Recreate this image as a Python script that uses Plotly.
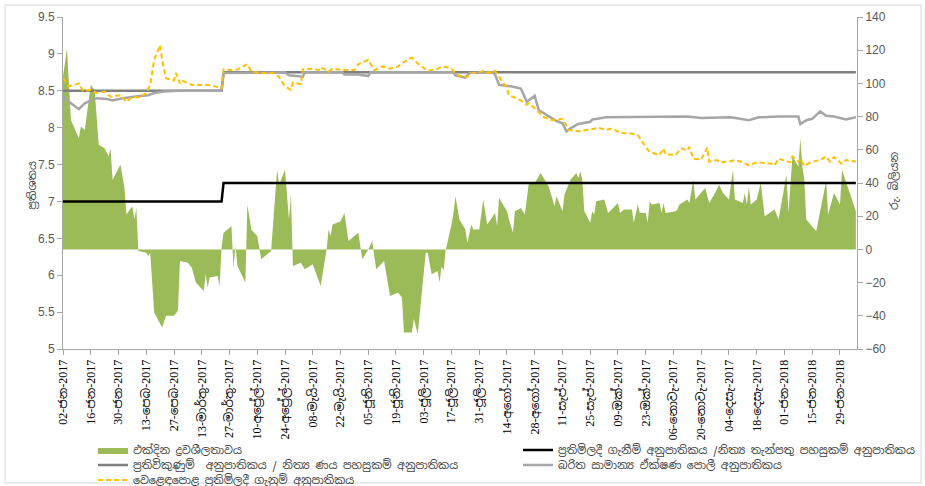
import plotly.graph_objects as go
import pandas as pd

# ---- overnight liquidity (Rs. billion, right axis) ----
liq_dates = [
    "2017-01-02", "2017-01-03", "2017-01-04", "2017-01-06", "2017-01-10", "2017-01-11", "2017-01-13",
    "2017-01-16", "2017-01-18", "2017-01-20", "2017-01-23", "2017-01-25", "2017-01-26", "2017-01-27",
    "2017-01-31", "2017-02-02", "2017-02-03", "2017-02-06", "2017-02-07", "2017-02-08", "2017-02-09",
    "2017-02-13", "2017-02-14", "2017-02-15", "2017-02-17", "2017-02-21", "2017-02-23", "2017-02-27",
    "2017-03-01", "2017-03-02", "2017-03-06", "2017-03-08", "2017-03-09", "2017-03-10", "2017-03-14",
    "2017-03-15", "2017-03-16", "2017-03-17", "2017-03-21", "2017-03-22", "2017-03-23", "2017-03-24",
    "2017-03-28", "2017-03-29", "2017-03-30", "2017-03-31", "2017-04-04", "2017-04-05", "2017-04-07",
    "2017-04-10", "2017-04-12", "2017-04-17", "2017-04-20", "2017-04-21", "2017-04-24", "2017-04-26",
    "2017-04-27", "2017-04-28", "2017-05-02", "2017-05-04", "2017-05-08", "2017-05-12", "2017-05-15",
    "2017-05-16", "2017-05-17", "2017-05-18", "2017-05-22", "2017-05-24", "2017-05-26", "2017-05-31",
    "2017-06-02", "2017-06-05", "2017-06-07", "2017-06-09", "2017-06-13", "2017-06-16", "2017-06-20",
    "2017-06-22", "2017-06-23", "2017-06-27", "2017-06-28", "2017-06-30", "2017-07-04", "2017-07-05",
    "2017-07-07", "2017-07-10", "2017-07-11", "2017-07-12", "2017-07-13", "2017-07-14", "2017-07-17",
    "2017-07-18", "2017-07-19", "2017-07-21", "2017-07-24", "2017-07-25", "2017-07-27", "2017-07-28",
    "2017-07-31", "2017-08-02", "2017-08-04", "2017-08-08", "2017-08-09", "2017-08-10", "2017-08-14",
    "2017-08-15", "2017-08-17", "2017-08-18", "2017-08-21", "2017-08-23", "2017-08-25", "2017-08-28",
    "2017-08-31", "2017-09-04", "2017-09-07", "2017-09-08", "2017-09-11", "2017-09-12", "2017-09-13",
    "2017-09-15", "2017-09-18", "2017-09-19", "2017-09-20", "2017-09-21", "2017-09-22", "2017-09-25",
    "2017-09-26", "2017-09-27", "2017-09-28", "2017-10-02", "2017-10-04", "2017-10-09", "2017-10-10",
    "2017-10-12", "2017-10-16", "2017-10-17", "2017-10-19", "2017-10-20", "2017-10-23", "2017-10-24",
    "2017-10-25", "2017-10-26", "2017-10-30", "2017-10-31", "2017-11-01", "2017-11-02", "2017-11-07",
    "2017-11-08", "2017-11-09", "2017-11-13", "2017-11-14", "2017-11-16", "2017-11-17", "2017-11-20",
    "2017-11-22", "2017-11-24", "2017-11-27", "2017-11-29", "2017-12-01", "2017-12-04", "2017-12-06",
    "2017-12-07", "2017-12-11", "2017-12-12", "2017-12-13", "2017-12-14", "2017-12-15", "2017-12-18",
    "2017-12-20", "2017-12-22", "2017-12-27", "2017-12-29", "2018-01-02", "2018-01-03", "2018-01-05",
    "2018-01-08", "2018-01-09", "2018-01-10", "2018-01-11", "2018-01-12", "2018-01-17", "2018-01-22",
    "2018-01-23", "2018-01-26", "2018-01-29", "2018-01-30", "2018-02-01", "2018-02-06",
]
liq_values = [
    104, 112, 121, 78, 67, 74, 72,
    99, 96, 63, 61, 56, 61, 42,
    51, 37, 21, 26, 18, 25, -1,
    -2, -4, -2, -38, -47, -40, -40,
    -37, -7, -8, -11, -16, -20, -25,
    -15, -23, -17, -16, -22, 1, 10,
    14, -11, 2, -10, -20, 27, 12,
    8, -6, -1, 48, 39, 48, 18,
    33, -10, -8, -12, -9, -22, 0,
    12, 8, 15, 17, 22, 5, 10,
    -6, 0, 5, -12, -7, -28, -26,
    -29, -50, -50, -42, -51, -2, -2,
    -15, -13, -20, -10, -13, -1, 15,
    22, 32, 18, 12, 4, 15, 12,
    12, 30, 15, 22, 14, 31, 23,
    18, 10, 23, 25, 21, 40, 40,
    46, 38, 26, 32, 23, 33, 36,
    42, 46, 43, 47, 42, 23, 16,
    23, 21, 29, 30, 22, 28, 22,
    24, 24, 16, 27, 22, 22, 16,
    29, 27, 28, 22, 28, 22, 23,
    24, 27, 30, 28, 42, 30, 34,
    37, 28, 34, 39, 34, 30, 48,
    30, 28, 34, 27, 38, 27, 30,
    40, 20, 24, 18, 45, 22, 56,
    50, 67, 50, 42, 18, 11, 41,
    21, 34, 27, 48, 41, 23,
]

# ---- policy corridor (per cent, left axis) ----
policy_dates = ["2017-01-02", "2017-03-23", "2017-03-24", "2018-02-06"]
sdfr_values = [7.00, 7.00, 7.25, 7.25]
slfr_values = [8.50, 8.50, 8.75, 8.75]

# ---- weighted average call money rate ----
awcmr_dates = [
    "2017-01-02", "2017-01-05", "2017-01-10", "2017-01-13", "2017-01-16", "2017-01-19", "2017-01-24",
    "2017-01-27", "2017-02-01", "2017-02-06", "2017-02-10", "2017-02-14", "2017-02-17", "2017-02-22",
    "2017-03-01", "2017-03-23", "2017-03-24", "2017-04-24", "2017-04-26", "2017-05-03", "2017-05-04",
    "2017-05-23", "2017-05-24", "2017-05-31", "2017-06-05", "2017-06-06", "2017-07-18", "2017-07-19",
    "2017-07-24", "2017-07-26", "2017-08-07", "2017-08-08", "2017-08-10", "2017-08-16", "2017-08-21",
    "2017-08-24", "2017-08-28", "2017-08-30", "2017-09-04", "2017-09-08", "2017-09-11", "2017-09-13",
    "2017-09-15", "2017-09-19", "2017-09-25", "2017-09-26", "2017-10-03", "2017-10-13", "2017-10-31",
    "2017-11-13", "2017-11-20", "2017-11-29", "2017-12-05", "2017-12-14", "2017-12-19", "2017-12-29",
    "2018-01-08", "2018-01-09", "2018-01-12", "2018-01-15", "2018-01-19", "2018-01-22", "2018-01-26",
    "2018-02-01", "2018-02-06",
]
awcmr_values = [
    8.42, 8.35, 8.25, 8.33, 8.37, 8.40, 8.39,
    8.37, 8.40, 8.42, 8.43, 8.44, 8.47, 8.49,
    8.50, 8.50, 8.74, 8.75, 8.71, 8.69, 8.75,
    8.75, 8.72, 8.72, 8.70, 8.75, 8.75, 8.71,
    8.68, 8.74, 8.75, 8.72, 8.58, 8.56, 8.53,
    8.35, 8.43, 8.24, 8.15, 8.09, 8.06, 7.95,
    7.99, 8.05, 8.08, 8.11, 8.14, 8.14, 8.14,
    8.15, 8.13, 8.13, 8.14, 8.10, 8.14, 8.15,
    8.15, 8.05, 8.10, 8.12, 8.22, 8.16, 8.15,
    8.11, 8.14,
]

# ---- market repo rate ----
repo_dates = [
    "2017-01-02", "2017-01-05", "2017-01-10", "2017-01-12", "2017-01-16", "2017-01-19", "2017-01-23",
    "2017-01-26", "2017-01-31", "2017-02-03", "2017-02-06", "2017-02-09", "2017-02-13", "2017-02-15",
    "2017-02-17", "2017-02-20", "2017-02-21", "2017-02-23", "2017-02-27", "2017-02-28", "2017-03-02",
    "2017-03-03", "2017-03-08", "2017-03-10", "2017-03-16", "2017-03-20", "2017-03-23", "2017-03-24",
    "2017-03-28", "2017-03-31", "2017-04-03", "2017-04-05", "2017-04-07", "2017-04-12", "2017-04-18",
    "2017-04-21", "2017-04-24", "2017-04-27", "2017-04-28", "2017-05-02", "2017-05-03", "2017-05-08",
    "2017-05-11", "2017-05-12", "2017-05-16", "2017-05-18", "2017-05-23", "2017-05-29", "2017-05-31",
    "2017-06-05", "2017-06-08", "2017-06-12", "2017-06-16", "2017-06-20", "2017-06-23", "2017-06-27",
    "2017-06-30", "2017-07-05", "2017-07-10", "2017-07-13", "2017-07-17", "2017-07-19", "2017-07-21",
    "2017-07-25", "2017-07-27", "2017-07-31", "2017-08-02", "2017-08-04", "2017-08-08", "2017-08-10",
    "2017-08-14", "2017-08-15", "2017-08-18", "2017-08-21", "2017-08-24", "2017-08-25", "2017-08-29",
    "2017-09-01", "2017-09-06", "2017-09-11", "2017-09-12", "2017-09-14", "2017-09-19", "2017-09-22",
    "2017-09-26", "2017-09-29", "2017-10-03", "2017-10-06", "2017-10-10", "2017-10-16", "2017-10-19",
    "2017-10-23", "2017-10-25", "2017-10-30", "2017-11-01", "2017-11-02", "2017-11-07", "2017-11-10",
    "2017-11-13", "2017-11-14", "2017-11-16", "2017-11-20", "2017-11-23", "2017-11-24", "2017-11-28",
    "2017-11-29", "2017-12-04", "2017-12-07", "2017-12-11", "2017-12-14", "2017-12-18", "2017-12-26",
    "2017-12-27", "2017-12-29", "2018-01-02", "2018-01-04", "2018-01-05", "2018-01-08", "2018-01-09",
    "2018-01-11", "2018-01-15", "2018-01-19", "2018-01-22", "2018-01-24", "2018-01-26", "2018-01-30",
    "2018-02-01", "2018-02-06",
]
repo_values = [
    8.67, 8.56, 8.60, 8.50, 8.51, 8.47, 8.49,
    8.42, 8.44, 8.35, 8.42, 8.41, 8.47, 8.58,
    8.92, 9.12, 8.92, 8.67, 8.64, 8.74, 8.60,
    8.64, 8.58, 8.58, 8.58, 8.56, 8.53, 8.79,
    8.78, 8.79, 8.83, 8.86, 8.76, 8.74, 8.74,
    8.69, 8.56, 8.51, 8.61, 8.59, 8.79, 8.80,
    8.78, 8.82, 8.76, 8.80, 8.78, 8.78, 8.86,
    8.92, 8.78, 8.83, 8.80, 8.83, 8.89, 8.95,
    8.87, 8.77, 8.80, 8.83, 8.80, 8.74, 8.70,
    8.69, 8.74, 8.75, 8.77, 8.74, 8.77, 8.69,
    8.53, 8.44, 8.40, 8.37, 8.31, 8.33, 8.24,
    8.15, 8.10, 8.12, 8.08, 7.97, 7.95, 7.96,
    7.98, 8.00, 7.97, 7.99, 7.93, 7.92, 7.90,
    7.74, 7.67, 7.63, 7.72, 7.64, 7.63, 7.72,
    7.69, 7.74, 7.58, 7.57, 7.73, 7.54, 7.56,
    7.53, 7.54, 7.56, 7.53, 7.49, 7.53, 7.51,
    7.49, 7.58, 7.55, 7.53, 7.61, 7.54, 7.58,
    7.48, 7.54, 7.56, 7.61, 7.54, 7.60, 7.51,
    7.56, 7.54,
]

# ---- x-axis tick labels (fortnightly) ----
tick_labels = [
    "02-ජන-2017", "16-ජන-2017", "30-ජන-2017", "13-පෙබ-2017", "27-පෙබ-2017",
    "13-මාර්තු-2017", "27-මාර්තු-2017", "10-අප්‍රේල්-2017", "24-අප්‍රේල්-2017",
    "08-මැයි-2017", "22-මැයි-2017", "05-ජූනි-2017", "19-ජූනි-2017", "03-ජූලි-2017",
    "17-ජූලි-2017", "31-ජූලි-2017", "14-අගෝ-2017", "28-අගෝ-2017", "11-සැප්-2017",
    "25-සැප්-2017", "09-ඔක්-2017", "23-ඔක්-2017", "06-නොවැ-2017", "20-නොවැ-2017",
    "04-දෙසැ-2017", "18-දෙසැ-2017", "01-ජන-2018", "15-ජන-2018", "29-ජන-2018",
]
tick_dates = pd.date_range("2017-01-02", periods=len(tick_labels), freq="14D")

names = {
    "liq": "එක්දින ද්‍රවශීලතාවය",
    "sdfr": "ප්‍රතිමිලදී ගැනීම් අනුපාතිකය /නිත්‍ය තැන්පතු පහසුකම් අනුපාතිකය",
    "slfr": "ප්‍රතිවිකුණුම්  අනුපාතිකය / නිත්‍ය ණය පහසුකම් අනුපාතිකය",
    "awcmr": "බරිත සාමාන්‍ය ඒක්ෂණ පොලී අනුපාතිකය",
    "repo": "වෙළෙඳපොළ ප්‍රතිමිලදී ගැනුම් අනුපාතිකය",
}

SIN = "Noto Sans Sinhala, Noto Sans, Liberation Sans, sans-serif"
GREEN = "#9BBB59"

fig = go.Figure()

# area on the primary (right-hand) axis so the rate lines are drawn over it
fig.add_trace(go.Scatter(
    x=liq_dates, y=liq_values, name=names["liq"], mode="lines",
    fill="tozeroy", fillcolor=GREEN, line=dict(color=GREEN, width=0),
    yaxis="y", legend="legend", showlegend=True,
))
fig.add_trace(go.Scatter(
    x=policy_dates, y=sdfr_values, name=names["sdfr"], mode="lines",
    line=dict(color="#000000", width=2.5), yaxis="y2", legend="legend2", showlegend=True,
))
fig.add_trace(go.Scatter(
    x=policy_dates, y=slfr_values, name=names["slfr"], mode="lines",
    line=dict(color="#808080", width=2.5), yaxis="y2", legend="legend3", showlegend=True,
))
fig.add_trace(go.Scatter(
    x=awcmr_dates, y=awcmr_values, name=names["awcmr"], mode="lines",
    line=dict(color="#A6A6A6", width=2.5), yaxis="y2", legend="legend4", showlegend=True,
))
fig.add_trace(go.Scatter(
    x=repo_dates, y=repo_values, name=names["repo"], mode="lines",
    line=dict(color="#FFC000", width=2, dash="5px,3px"), yaxis="y2", legend="legend5", showlegend=True,
))

ML, MR, MT, MB = 63, 68, 17, 137
W, H = 925, 486
PW, PH = W - ML - MR, H - MT - MB


def px_x(px):
    return (px - ML) / PW


def px_y(py):
    return (H - MB - py) / PH


leg_common = dict(
    bgcolor="rgba(0,0,0,0)", borderwidth=0, orientation="h",
    font=dict(family=SIN, size=11, color="#404040"),
    xanchor="left", yanchor="middle", itemwidth=30,
)

fig.update_layout(
    width=W, height=H, showlegend=True,
    margin=dict(l=ML, r=MR, t=MT, b=MB, autoexpand=False),
    paper_bgcolor="white", plot_bgcolor="white",
    xaxis=dict(
        type="date", range=["2017-01-02", "2018-02-06 14:00"],
        tickvals=tick_dates, ticktext=tick_labels, tickangle=-90,
        tickfont=dict(family="Liberation Serif, Noto Sans Sinhala, serif", size=12, color="#000000"),
        showgrid=False, zeroline=False,
        showline=True, linecolor="#A6A6A6", linewidth=1,
        ticks="outside", ticklen=5, tickcolor="#A6A6A6",
    ),
    yaxis=dict(
        side="right", range=[-60, 140], dtick=20, tick0=0,
        showgrid=False, zeroline=False,
        showline=True, linecolor="#A6A6A6", linewidth=1,
        ticks="outside", ticklen=5, tickcolor="#A6A6A6",
        tickfont=dict(family="Liberation Sans, sans-serif", size=12, color="#595959"),
    ),
    yaxis2=dict(
        overlaying="y", side="left", range=[5, 9.5], dtick=0.5, tick0=5,
        showgrid=False, zeroline=False,
        showline=True, linecolor="#A6A6A6", linewidth=1,
        ticks="outside", ticklen=5, tickcolor="#A6A6A6",
        tickfont=dict(family="Liberation Sans, sans-serif", size=12, color="#595959"),
    ),
    legend=dict(x=px_x(93), y=px_y(450), **leg_common),
    legend2=dict(x=px_x(518), y=px_y(450), **leg_common),
    legend3=dict(x=px_x(93), y=px_y(465), **leg_common),
    legend4=dict(x=px_x(518), y=px_y(465), **leg_common),
    legend5=dict(x=px_x(93), y=px_y(480), **leg_common),
    annotations=[
        dict(text="ප්‍රතිශතය", xref="paper", yref="paper", x=px_x(23), y=px_y(186),
             textangle=-90, showarrow=False, font=dict(family=SIN, size=11, color="#404040")),
        dict(text="රු. බිලියන", xref="paper", yref="paper", x=px_x(903), y=px_y(181),
             textangle=-90, showarrow=False, font=dict(family=SIN, size=11, color="#404040")),
    ],
    shapes=[
        dict(type="rect", xref="paper", yref="paper",
             x0=px_x(5), x1=px_x(921), y0=px_y(483), y1=px_y(5),
             line=dict(color="#D9D9D9", width=1), fillcolor="rgba(0,0,0,0)", layer="below"),
    ],
)

fig.write_html("out.html")
